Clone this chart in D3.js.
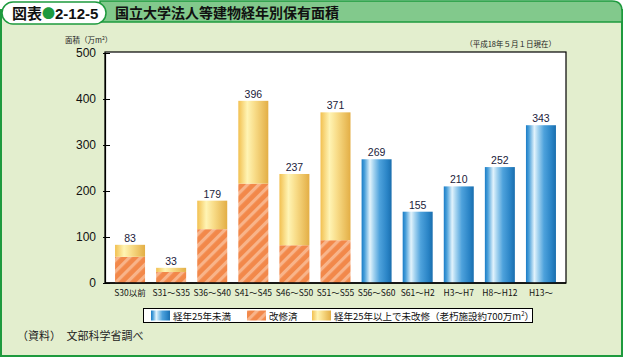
<!DOCTYPE html>
<html><head><meta charset="utf-8">
<script src="https://cdn.jsdelivr.net/npm/d3@7"></script>
<style>body{margin:0;padding:0;background:#fff}svg{display:block}</style>
</head><body>
<script>
const categories = ["S30以前","S31～S35","S36～S40","S41～S45","S46～S50","S51～S55","S56～S60","S61～H2","H3～H7","H8～H12","H13～"];
const under25 = [0,0,0,0,0,0,269,155,210,252,343];
const renovated = [57,24,117,216,82,93,0,0,0,0,0];
const unrenovated = [26,9,62,180,155,278,0,0,0,0,0];
const totals = [83,33,179,396,237,371,269,155,210,252,343];
const yTicks = [0,100,200,300,400,500];

const W=624,H=358;
const svg=d3.select("body").append("svg").attr("width",W).attr("height",H);
const defs=svg.append("defs");
const jp="'Noto Sans CJK JP','Noto Sans',sans-serif";
const lat="'Liberation Sans',Arial,sans-serif";

// gradients
const gb=defs.append("linearGradient").attr("id","gBlue").attr("x1","0").attr("x2","1").attr("y1","0").attr("y2","0");
[[0,"#1a7cc6"],[0.1,"#4aa0da"],[0.28,"#e2f3fc"],[0.4,"#a6d4f0"],[0.6,"#4ea2dc"],[0.85,"#2a84c6"],[1,"#1a6eae"]].forEach(s=>gb.append("stop").attr("offset",s[0]).attr("stop-color",s[1]));
const gg=defs.append("linearGradient").attr("id","gGold").attr("x1","0").attr("x2","1").attr("y1","0").attr("y2","0");
[[0,"#f2c050"],[0.3,"#fff4b4"],[0.55,"#f8dc88"],[1,"#e3ae45"]].forEach(s=>gg.append("stop").attr("offset",s[0]).attr("stop-color",s[1]));
const pat=defs.append("pattern").attr("id","hatch").attr("patternUnits","userSpaceOnUse").attr("width",8).attr("height",8).attr("patternTransform","rotate(45)");
pat.append("rect").attr("width",8).attr("height",8).attr("fill","#f2884a");
pat.append("rect").attr("x",0).attr("width",3.2).attr("height",8).attr("fill","#f8b48a");

// frame background
svg.append("rect").attr("x",1).attr("y",10).attr("width",621).attr("height",346).attr("fill","#e3eece").attr("stroke","#1e9a3e").attr("stroke-width",2);
// title bar
svg.append("path").attr("d","M100,1 H612 Q622,1 622,11 V22 H100 Z").attr("fill","#82c98c").attr("stroke","#1e9a3e").attr("stroke-width",1.5);
svg.append("rect").attr("x",2).attr("y",2).attr("width",104).attr("height",22).attr("rx",11).attr("fill","#fff").attr("stroke","#1e9a3e").attr("stroke-width",1.5);
const tt=svg.append("text").attr("x",12).attr("y",19).attr("font-family",jp).attr("font-weight","bold").attr("font-size",15).attr("fill","#111");
tt.append("tspan").text("図表");
tt.append("tspan").attr("fill","#1e9a3e").attr("font-size",13).attr("dy",-1).text("●");
tt.append("tspan").attr("font-family",lat).attr("dy",1).attr("font-size",15).text("2-12-5");
svg.append("text").attr("x",115).attr("y",18).attr("font-family",jp).attr("font-weight","bold").attr("font-size",14).attr("fill","#111").text("国立大学法人等建物経年別保有面積");

// plot area
const L=105,R=566,T=52,B=283;
svg.append("rect").attr("x",L).attr("y",T).attr("width",R-L).attr("height",B-T).attr("fill","#fff").attr("stroke","#000").attr("stroke-width",1.2);
const x=d3.scaleBand().domain(categories).range([109.5,561.5]).paddingInner(0.27).paddingOuter(0.135);
const y=d3.scaleLinear().domain([0,500]).range([B,T+1]);

const g=svg.append("g");
categories.forEach((c,i)=>{
  const bx=x(c),bw=x.bandwidth();
  if(under25[i]>0) g.append("rect").attr("x",bx).attr("width",bw).attr("y",y(under25[i])).attr("height",y(0)-y(under25[i])).attr("fill","url(#gBlue)");
  if(renovated[i]>0) g.append("rect").attr("x",bx).attr("width",bw).attr("y",y(renovated[i])).attr("height",y(0)-y(renovated[i])).attr("fill","url(#hatch)");
  if(unrenovated[i]>0){const top=renovated[i]+unrenovated[i];g.append("rect").attr("x",bx).attr("width",bw).attr("y",y(top)).attr("height",y(renovated[i])-y(top)).attr("fill","url(#gGold)");}
  g.append("text").attr("x",bx+bw/2).attr("y",y(totals[i])-3).attr("text-anchor","middle").attr("font-family",lat).attr("font-size",10.5).attr("fill","#1a1a3a").text(totals[i]);
});

// axes
const ya=d3.axisLeft(y).tickValues(yTicks).tickSizeInner(-5).tickSizeOuter(0).tickPadding(9);
const yg=svg.append("g").attr("transform",`translate(${L},0)`).call(ya);
yg.select(".domain").attr("stroke","#000").attr("stroke-width",1.2);
yg.selectAll(".tick line").attr("stroke","#000").attr("x1",-2).attr("x2",5);
yg.selectAll(".tick text").attr("font-family",lat).attr("font-size",12).attr("fill","#111");
const xa=d3.axisBottom(x).tickSize(0).tickPadding(7);
const xg=svg.append("g").attr("transform",`translate(0,${B})`).call(xa);
xg.select(".domain").remove();
xg.selectAll(".tick text").attr("font-family",jp).attr("font-size",8.5).attr("fill","#111");
svg.append("line").attr("x1",L).attr("x2",R).attr("y1",B).attr("y2",B).attr("stroke","#000").attr("stroke-width",1.5);

// axis title & note
const at=svg.append("text").attr("x",65).attr("y",43).attr("font-family",jp).attr("font-size",7.5).attr("fill","#222");
at.append("tspan").text("面積（万m");
at.append("tspan").attr("font-size",5).attr("dy",-3).text("2");
at.append("tspan").attr("dy",3).text("）");
svg.append("text").attr("x",556).attr("y",47).attr("text-anchor","end").attr("font-family",jp).attr("font-size",7.5).attr("fill","#222").text("（平成18年５月１日現在）");

// legend
svg.append("rect").attr("x",143.5).attr("y",308.5).attr("width",389).attr("height",14).attr("fill","#fff").attr("stroke","#000").attr("stroke-width",1);
const leg=[{f:"url(#gBlue)",x:151,t:"経年25年未満"},{f:"url(#hatch)",x:247,t:"改修済"},{f:"url(#gGold)",x:312,t:"経年25年以上で未改修（老朽施設約700万m"}];
leg.forEach(d=>{
  svg.append("rect").attr("x",d.x).attr("y",310.5).attr("width",19).attr("height",10).attr("fill",d.f);
  const t=svg.append("text").attr("x",d.x+22).attr("y",319.5).attr("font-family",jp).attr("font-size",9.5).attr("fill","#111").text(d.t);
  if(d.f==="url(#gGold)"){t.append("tspan").attr("font-size",6).attr("dy",-4).text("2");t.append("tspan").attr("dy",4).text("）");}
});

// footer
svg.append("text").attr("x",17).attr("y",340).attr("font-family",jp).attr("font-size",11).attr("fill","#222").text("（資料）　文部科学省調べ");
</script>
</body></html>
